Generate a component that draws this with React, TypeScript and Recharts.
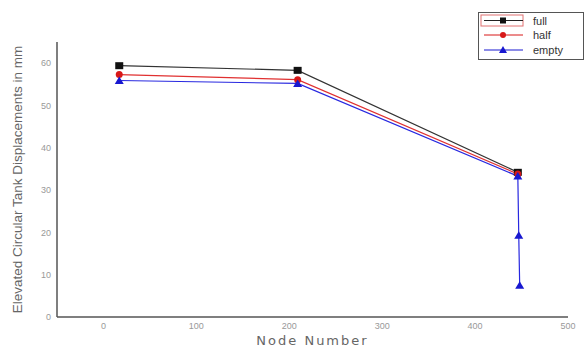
import React from 'react';
import { LineChart, Line, XAxis, YAxis } from 'recharts';

const fullNodes = [17, 209, 446];
const fullValues = [59.4, 58.3, 34.2];
const halfNodes = [17, 209, 446];
const halfValues = [57.3, 56.1, 33.8];
const emptyNodes = [17, 209, 446, 447, 448];
const emptyValues = [55.9, 55.2, 33.3, 19.3, 7.5];
const xTicks = [0, 100, 200, 300, 400, 500];
const yTicks = [0, 10, 20, 30, 40, 50, 60];

const toPts = (xs: number[], ys: number[]) => xs.map((x, i) => ({ x, y: ys[i] }));
const fullData = toPts(fullNodes, fullValues);
const halfData = toPts(halfNodes, halfValues);
const emptyData = toPts(emptyNodes, emptyValues);

const Square = (p: any) => {
  const { cx, cy } = p;
  if (cx == null || cy == null) return null;
  return <rect x={cx - 4} y={cy - 3.5} width={8} height={7} fill="#111" />;
};
const Dot = (p: any) => {
  const { cx, cy } = p;
  if (cx == null || cy == null) return null;
  return <circle cx={cx} cy={cy} r={3.5} fill="#d81818" />;
};
const Tri = (p: any) => {
  const { cx, cy } = p;
  if (cx == null || cy == null) return null;
  return <path d={`M${cx - 4.5},${cy + 3.5} L${cx + 4.5},${cy + 3.5} L${cx},${cy - 4} Z`} fill="#1818d0" />;
};

const LegendBox = () => (
  <svg width={108} height={50} style={{ display: 'block' }}>
    <rect x={0.5} y={0.5} width={105} height={47} fill="#fff" stroke="#555" strokeWidth={1} />
    <rect x={3} y={3} width={42} height={11} fill="none" stroke="#e07070" strokeWidth={1} />
    <line x1={6} y1={8.5} x2={45} y2={8.5} stroke="#222" strokeWidth={1} />
    <rect x={22} y={5.5} width={6} height={6} fill="#111" />
    <text x={55} y={13} fontSize={11} fill="#333" fontFamily="Liberation Sans, Arial">full</text>
    <line x1={6} y1={23} x2={45} y2={23} stroke="#d81818" strokeWidth={1} />
    <circle cx={25} cy={23} r={3} fill="#d81818" />
    <text x={55} y={27} fontSize={11} fill="#333" fontFamily="Liberation Sans, Arial">half</text>
    <line x1={6} y1={38} x2={45} y2={38} stroke="#1818d0" strokeWidth={1} />
    <path d="M21,41 L29,41 L25,34 Z" fill="#1818d0" />
    <text x={55} y={42} fontSize={11} fill="#333" fontFamily="Liberation Sans, Arial">empty</text>
  </svg>
);

export default function App() {
  return (
    <div style={{ position: 'absolute', left: 0, top: 0, width: 588, height: 347, background: '#fff' }}>
      <LineChart width={588} height={347} margin={{ top: 42, right: 20, left: 0, bottom: 0 }}>
        <XAxis
          dataKey="x"
          type="number"
          domain={[-50, 500]}
          ticks={xTicks}
          allowDataOverflow
          height={30}
          axisLine={{ stroke: '#555', strokeWidth: 1.5 }}
          tickLine={false}
          tick={{ fontSize: 9, fill: '#999', fontFamily: 'Liberation Sans, Arial' }}
          tickMargin={0}
          label={{ value: 'Node Number', position: 'insideBottom', offset: 2, style: { fontSize: 13, fill: '#666', fontFamily: 'DejaVu Sans', letterSpacing: 2 } }}
        />
        <YAxis
          dataKey="y"
          type="number"
          domain={[0, 65]}
          ticks={yTicks}
          width={57}
          axisLine={{ stroke: '#555', strokeWidth: 1.5 }}
          tickLine={false}
          tick={{ fontSize: 9, fill: '#999', fontFamily: 'Liberation Sans, Arial' }}
          tickMargin={0}
          label={{ value: 'Elevated Circular Tank Displacements in mm', angle: -90, position: 'insideLeft', offset: 17, style: { fontSize: 13.5, fill: '#666', fontFamily: 'Liberation Sans, Arial', textAnchor: 'middle' } }}
        />
        <Line data={fullData} dataKey="y" name="full" stroke="#333" strokeWidth={1.2} dot={<Square />} isAnimationActive={false} />
        <Line data={halfData} dataKey="y" name="half" stroke="#e03030" strokeWidth={1.2} dot={<Dot />} isAnimationActive={false} />
        <Line data={emptyData} dataKey="y" name="empty" stroke="#2828e0" strokeWidth={1.2} dot={<Tri />} isAnimationActive={false} />
      </LineChart>
      <div style={{ position: 'absolute', left: 478, top: 12 }}>
        <LegendBox />
      </div>
    </div>
  );
}
